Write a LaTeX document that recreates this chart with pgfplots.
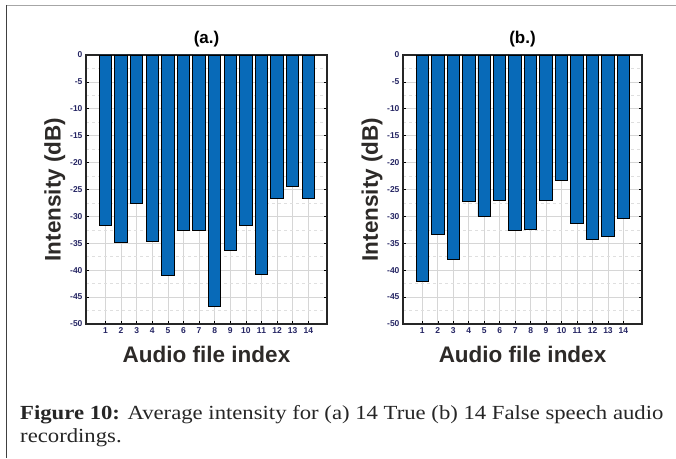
\documentclass[border=0pt]{standalone}
\usepackage{pgfplots}
\pgfplotsset{compat=1.18}
\usepackage{pgfplotstable}
\usepackage{fontspec}
\setmainfont{Liberation Sans}
\newfontfamily\capfont{Liberation Serif}
\definecolor{barblue}{RGB}{8,106,184}
\definecolor{ticknavy}{RGB}{38,38,100}
\definecolor{labgray}{RGB}{45,42,40}
\pgfplotstableread{
idx val
1 -31.7
2 -34.8
3 -27.6
4 -34.7
5 -41.0
6 -32.6
7 -32.6
8 -46.8
9 -36.3
10 -31.6
11 -40.7
12 -26.6
13 -24.4
14 -26.6
}\dataA
\pgfplotstableread{
idx val
1 -42.0
2 -33.4
3 -38.0
4 -27.3
5 -30.0
6 -27.1
7 -32.7
8 -32.4
9 -27.1
10 -23.4
11 -31.3
12 -34.2
13 -33.8
14 -30.4
}\dataB
\pgfplotsset{
 myaxis/.style={
  scale only axis, height=269pt,
  anchor=south west,
  xmin=-0.25, xmax=15.2, ymin=-50, ymax=0,
  xtick={1,...,14}, ytick={-50,-45,...,0},
  minor y tick num=1,
  ybar, bar width=12.5pt,
  grid=both,
  major grid style={gray!32, line width=0.7pt},
  minor grid style={gray!25, dashed, line width=0.6pt},
  axis line style={black!85, line width=1.2pt},
  tick style={black, line width=0.6pt},
  tick align=inside, major tick length=3pt, minor tick length=0pt,
  /pgf/number format/assume math mode=true,
  ticklabel style={font=\bfseries\fontsize{8.5}{9}\selectfont, text=ticknavy},
  xlabel={Audio file index}, ylabel={Intensity (dB)},
  label style={font=\bfseries\fontsize{22.5}{23}\selectfont, text=labgray},
  xlabel style={at={(axis description cs:0.5,-0.115)}, anchor=center},
  title style={at={(axis description cs:0.5,1.037)}, anchor=center, font=\bfseries\fontsize{17}{17}\selectfont},
 }
}
\begin{document}
\begin{tikzpicture}
\path[use as bounding box] (0,0) rectangle (676pt,458pt);
\fill[white] (0,0) rectangle (676pt,458pt);
\draw[gray!70, line width=1pt] (6pt,452.5pt) -- (676pt,452.5pt);
\draw[black!75, line width=1pt] (6pt,453pt) -- (6pt,0pt);
\begin{axis}[myaxis, at={(86pt,134pt)}, width=241pt, title={(a.)},
  ylabel style={at={(axis description cs:-0.129,0.5)}, anchor=center}]
\addplot[fill=barblue, draw=black, line width=0.9pt] table[x=idx,y=val] {\dataA};
\end{axis}
\begin{axis}[myaxis, at={(403pt,134pt)}, width=239pt, title={(b.)},
  ylabel style={at={(axis description cs:-0.13,0.5)}, anchor=center}]
\addplot[fill=barblue, draw=black, line width=0.9pt] table[x=idx,y=val] {\dataB};
\end{axis}
\node[anchor=base west, inner sep=0pt, font=\capfont\fontsize{20}{22}\selectfont, text=black!85] at (20pt,39pt) {\scalebox{1.135}[1]{\textbf{Figure 10:} Average intensity for (a) 14 True (b) 14 False speech audio}};
\node[anchor=base west, inner sep=0pt, font=\capfont\fontsize{20}{22}\selectfont, text=black!85] at (20pt,16pt) {\scalebox{1.135}[1]{recordings.}};
\end{tikzpicture}
\end{document}
